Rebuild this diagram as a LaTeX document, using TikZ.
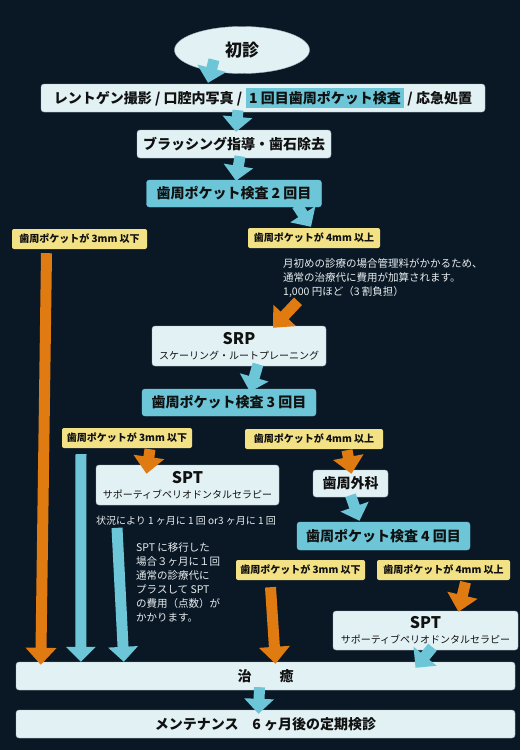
\documentclass[tikz,border=0pt]{standalone}
\usepackage{fontspec}
\setmainfont{Noto Sans CJK JP}
\usetikzlibrary{arrows.meta,shapes.geometric,positioning,calc}
\definecolor{navybg}{HTML}{0A1826}
\definecolor{boxlight}{HTML}{E2F1F4}
\definecolor{boxedge}{HTML}{9FB3BA}
\definecolor{boxcyan}{HTML}{6CC6D8}
\definecolor{tagyellow}{HTML}{F3E285}
\definecolor{arrowcyan}{HTML}{6CC6D8}
\definecolor{arroworange}{HTML}{E07B12}
\definecolor{notewhite}{HTML}{E8EEF0}
\definecolor{inkblack}{HTML}{111111}
\tikzset{
    lightbox/.style={
        rectangle,
        rounded corners=3pt,
        fill=boxlight,
        draw=boxedge,
        text=inkblack,
        inner sep=0pt,
        align=center,
        font=\bfseries\fontsize{14}{16}\selectfont
    },
    cyanbox/.style={
        lightbox,
        fill=boxcyan,
        draw=boxcyan
    },
    tagbox/.style={
        rectangle,
        rounded corners=2pt,
        fill=tagyellow,
        text=inkblack,
        inner sep=0pt,
        minimum height=20pt,
        font=\bfseries\fontsize{10}{12}\selectfont
    },
    notetext/.style={
        text=notewhite,
        inner sep=0pt,
        align=left,
        font=\fontsize{10.5}{14}\selectfont
    },
    bluearrow/.style={
        draw=arrowcyan,
        line width=11pt,
        -{Triangle[length=15pt,width=29pt]}
    },
    orangearrow/.style={
        draw=arroworange,
        line width=11pt,
        -{Triangle[length=17pt,width=30pt]}
    }
}
\newcommand{\ttl}[1]{{\bfseries\fontsize{16}{16}\selectfont #1}}
\newcommand{\subttl}[1]{{\mdseries\fontsize{10}{12}\selectfont #1}}

\begin{document}
\begin{tikzpicture}[x=1pt,y=-1pt]

    \useasboundingbox[fill=navybg] (0,0) rectangle (520,750);

    % first visit
    \node[ellipse, fill=boxlight, draw=boxedge, minimum width=135pt, minimum height=47pt,
          font=\bfseries\fontsize{17}{17}\selectfont, text=inkblack] (start) at (242,50) {初診};

    \node[lightbox, minimum width=444pt, minimum height=28pt] (exam1) at (263,98)
        {レントゲン撮影 / 口腔内写真 / {\setlength{\fboxsep}{3.5pt}\colorbox{boxcyan}{1 回目歯周ポケット検査}} / 応急処置};
    \node[lightbox, minimum width=194pt, minimum height=28pt] (brush) at (234,144) {ブラッシング指導・歯石除去};
    \node[cyanbox, minimum width=175pt, minimum height=27pt] (exam2) at (234,193.5) {歯周ポケット検査 2 回目};

    % second check
    \node[tagbox, minimum width=135pt] (le3a) at (79.5,239) {歯周ポケットが 3mm 以下};
    \node[tagbox, minimum width=132pt] (ge4a) at (314,238) {歯周ポケットが 4mm 以上};
    \node[notetext, anchor=north west] (note1) at (283,258)
        {月初めの診療の場合管理料がかかるため、\\通常の治療代に費用が加算されます。\\1,000 円ほど（3 割負担）};
    \node[lightbox, minimum width=174pt, minimum height=40pt, font=\fontsize{10}{15}\selectfont] (srp) at (239,346)
        {\ttl{SRP}\\\subttl{スケーリング・ルートプレーニング}};
    \node[cyanbox, minimum width=174pt, minimum height=27pt] (exam3) at (229,402.5) {歯周ポケット検査 3 回目};

    % third check
    \node[tagbox, minimum width=130pt] (le3b) at (127,438) {歯周ポケットが 3mm 以下};
    \node[tagbox, minimum width=138pt] (ge4b) at (314,439) {歯周ポケットが 4mm 以上};
    \node[lightbox, minimum width=183pt, minimum height=40pt, font=\fontsize{10}{15}\selectfont] (spt1) at (187.5,485)
        {\ttl{SPT}\\\subttl{サポーティブペリオドンタルセラピー}};
    \node[lightbox, minimum width=75pt, minimum height=27pt] (surg) at (350.5,483.5) {歯周外科};
    \node[notetext, font=\fontsize{10}{12}\selectfont] (freq) at (186,521) {状況により 1 ヶ月に 1 回 or3 ヶ月に 1 回};
    \node[cyanbox, minimum width=173pt, minimum height=28pt] (exam4) at (383.5,536) {歯周ポケット検査 4 回目};
    \node[notetext, anchor=north west] (note2) at (136,542)
        {SPT に移行した\\場合３ヶ月に１回\\通常の診療代に\\プラスして SPT\\の費用（点数）が\\かかります。};

    % fourth check
    \node[tagbox, minimum width=129pt] (le3c) at (300.5,570) {歯周ポケットが 3mm 以下};
    \node[tagbox, minimum width=133pt] (ge4c) at (443.5,570) {歯周ポケットが 4mm 以上};
    \node[lightbox, minimum width=185pt, minimum height=39pt, font=\fontsize{10}{15}\selectfont] (spt2) at (425.5,630.5)
        {\ttl{SPT}\\\subttl{サポーティブペリオドンタルセラピー}};

    % end
    \node[lightbox, minimum width=499pt, minimum height=28pt] (cure) at (265.5,676) {治　　癒};
    \node[lightbox, minimum width=499pt, minimum height=28pt] (maint) at (265.5,724) {メンテナンス　6 ヶ月後の定期検診};

    % flow arrows
    \draw[bluearrow] ([xshift=-28pt,yshift=14pt]start.south) -- ([xshift=-55pt,yshift=1pt]exam1.north);
    \draw[bluearrow] ([xshift=-25pt,yshift=2pt]exam1.south) -- ([xshift=2pt,yshift=-2pt]brush.north);
    \draw[bluearrow] ([xshift=6pt,yshift=2pt]brush.south) -- ([xshift=2pt,yshift=-1pt]exam2.north);
    \draw[bluearrow] ([xshift=63pt,yshift=2pt]exam2.south) -- ([xshift=-3pt,yshift=1pt]ge4a.north);
    \draw[orangearrow] ([xshift=15pt,yshift=-4pt]note1.south west) -- ([xshift=34pt,yshift=-2pt]srp.north);
    \draw[orangearrow] ([xshift=-33pt,yshift=-4pt]le3a.south) -- ([xshift=25pt,yshift=-3pt]cure.north west);
    \draw[bluearrow] ([xshift=19pt,yshift=2pt]srp.south) -- ([xshift=21pt,yshift=-3pt]exam3.north);
    \draw[orangearrow] ([xshift=23pt,yshift=-1pt]le3b.south) -- ([xshift=-41pt,yshift=-9pt]spt1.north);
    \draw[orangearrow] ([xshift=33pt,yshift=-1pt]ge4b.south) -- ([xshift=1pt,yshift=-4pt]surg.north);
    \draw[bluearrow] ([yshift=2pt]surg.south) -- ([xshift=-24pt,yshift=1pt]exam4.north);
    \draw[bluearrow] ([xshift=-46pt,yshift=-6pt]le3b.south) -- ([xshift=65pt]cure.north west);
    \draw[bluearrow] ([xshift=-69pt,yshift=-2pt]freq.south) -- ([xshift=108pt]cure.north west);
    \draw[orangearrow] ([xshift=-30pt,yshift=-7pt]le3c.south) -- ([xshift=10pt,yshift=-2pt]cure.north);
    \draw[orangearrow] ([xshift=22pt,yshift=-2pt]ge4c.south) -- ([xshift=33pt,yshift=-1pt]spt2.north);
    \draw[bluearrow] ([xshift=7pt,yshift=3pt]spt2.south) -- ([xshift=150pt,yshift=-6pt]cure.north);
    \draw[bluearrow] ([xshift=-6pt,yshift=3pt]cure.south) -- ([xshift=-7pt,yshift=-4pt]maint.north);

\end{tikzpicture}
\end{document}
